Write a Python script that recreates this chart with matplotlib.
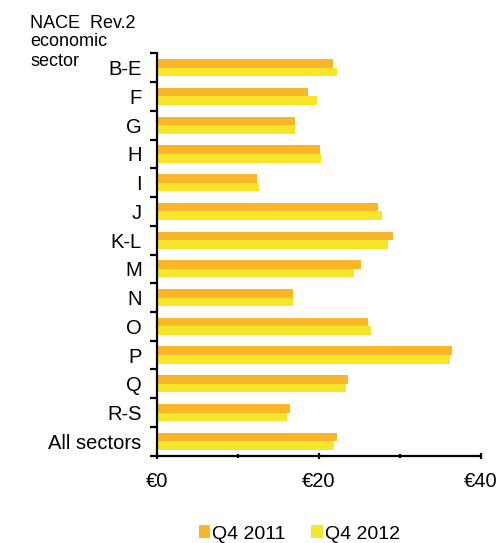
"""
Hourly labour cost by NACE Rev.2 economic sector, Q4 2011 vs Q4 2012
"""

import matplotlib.pyplot as plt
import numpy as np

# data (EUR)
sectors = ['B-E', 'F', 'G', 'H', 'I', 'J', 'K-L', 'M', 'N',
           'O', 'P', 'Q', 'R-S', 'All sectors']
q4_2011 = [21.7, 18.7, 17.0, 20.1, 12.4, 27.3, 29.2, 25.2, 16.8,
           26.1, 36.4, 23.6, 16.4, 22.2]
q4_2012 = [22.2, 19.8, 17.0, 20.3, 12.6, 27.8, 28.5, 24.3, 16.8,
           26.4, 36.2, 23.3, 16.1, 21.9]
series_labels = ['Q4 2011', 'Q4 2012']
x_ticks = [0, 20, 40]
x_tick_labels = ['€0', '€20', '€40']

ORANGE = '#F8B628'
YELLOW = '#F6E52A'

plt.rcParams['font.family'] = ['Liberation Sans', 'DejaVu Sans']

fig = plt.figure(figsize=(4.98, 5.43), dpi=100)
ax = fig.add_axes([0.3153, 0.1608, 0.9653 - 0.3153, 0.9018 - 0.1608])

y = np.arange(len(sectors))
h = 0.3
ax.barh(y - h / 2, q4_2011, height=h, color=ORANGE, label=series_labels[0])
ax.barh(y + h / 2, q4_2012, height=h, color=YELLOW, label=series_labels[1])

ax.set_xlim(0, 40)
ax.set_ylim(len(sectors) - 0.5, -0.5)

# spines
ax.spines[['top', 'right']].set_visible(False)
for s in ['left', 'bottom']:
    ax.spines[s].set_linewidth(1.6)

# y ticks: labels at category centres, tick marks at the boundaries
ax.set_yticks(y)
ax.set_yticklabels(sectors, fontsize=14.5)
ax.set_yticks(np.arange(len(sectors) + 1) - 0.5, minor=True)
ax.tick_params(axis='y', which='major', length=0, pad=11)
ax.tick_params(axis='y', which='minor', length=5, width=1.6, direction='out')

# x ticks
ax.set_xticks(x_ticks)
ax.set_xticklabels(x_tick_labels, fontsize=14.5)
ax.set_xticks([10, 30], minor=True)
ax.tick_params(axis='x', which='major', length=4, width=1.6,
               direction='inout', pad=9.5)
ax.tick_params(axis='x', which='minor', length=3, width=1.6,
               direction='inout')

# header above the category labels
fig.text(30 / 498, 1 - 28.3 / 543, 'NACE  Rev.2', fontsize=13, va='baseline')
fig.text(30 / 498, 1 - 45.7 / 543, 'economic', fontsize=13, va='baseline')
fig.text(30 / 498, 1 - 66 / 543, 'sector', fontsize=13, va='baseline')

fig.legend(loc='center', bbox_to_anchor=(0.601, 0.0166), ncol=2,
           frameon=False, fontsize=14, handlelength=0.6, handleheight=0.6,
           handletextpad=0.1, columnspacing=1.3, borderpad=0)

fig.savefig('out.png', dpi=100)
